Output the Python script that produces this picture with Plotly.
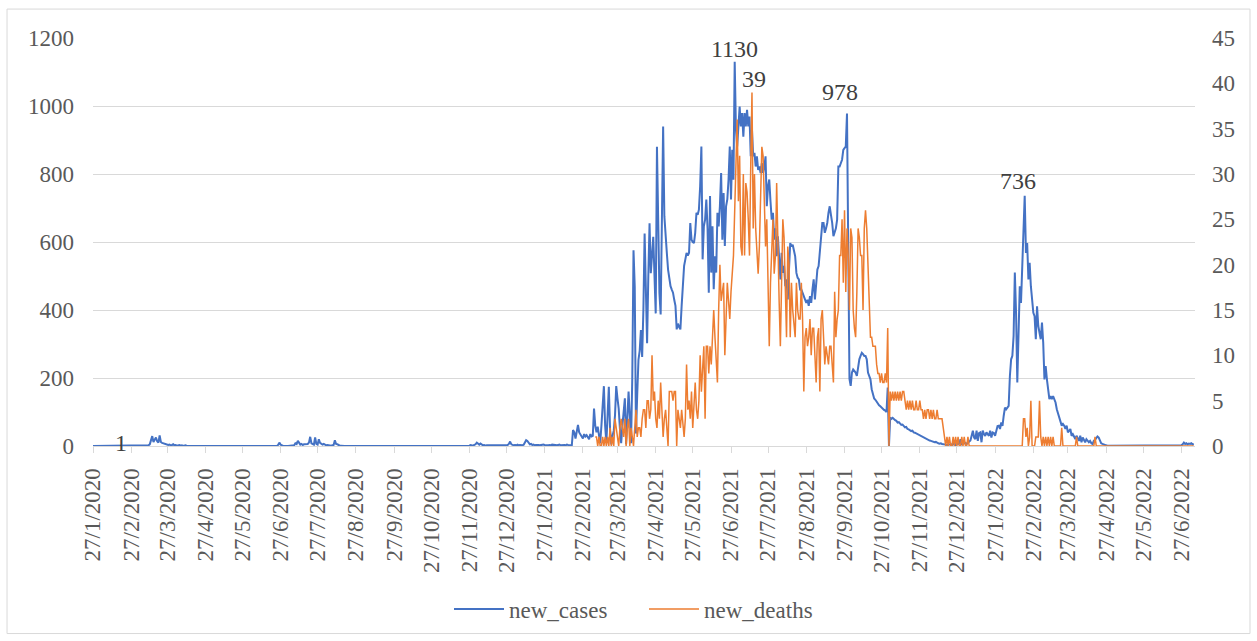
import pandas as pd
import plotly.graph_objects as go

# Daily series, one value per day starting at the given date
cases_start = "2020-01-27"
deaths_start = "2021-03-09"

new_cases = [
    0, 0, 0, 0, 0, 0, 0, 0, 0, 0,
    0, 0, 0, 0, 0, 0, 0, 0, 0, 0,
    0, 0, 0, 1, 0, 0, 0, 0, 0, 0,
    0, 0, 0, 0, 0, 0, 0, 0, 0, 0,
    0, 0, 0, 0, 0, 2, 5, 16, 29, 12,
    18, 25, 14, 10, 31, 12, 9, 8, 6, 4,
    5, 3, 4, 2, 3, 5, 2, 3, 1, 2,
    3, 1, 2, 0, 1, 2, 0, 1, 0, 0,
    0, 1, 0, 0, 0, 0, 0, 0, 1, 0,
    0, 0, 0, 0, 0, 0, 0, 0, 0, 0,
    0, 0, 0, 0, 0, 0, 0, 0, 0, 0,
    0, 0, 0, 0, 0, 0, 1, 0, 0, 0,
    0, 0, 0, 0, 0, 1, 0, 0, 0, 0,
    0, 0, 0, 1, 0, 0, 0, 1, 0, 0,
    0, 1, 0, 0, 0, 1, 0, 0, 1, 0,
    3, 10, 4, 1, 0, 0, 1, 0, 0, 0,
    0, 1, 0, 2, 8, 6, 15, 10, 4, 6,
    3, 5, 5, 4, 6, 10, 27, 8, 6, 4,
    25, 6, 4, 20, 9, 5, 4, 6, 3, 2,
    3, 2, 2, 1, 2, 3, 17, 6, 5, 2,
    1, 1, 0, 1, 0, 0, 0, 0, 1, 0,
    0, 0, 0, 0, 0, 0, 0, 0, 0, 0,
    0, 0, 0, 0, 0, 0, 0, 0, 0, 0,
    0, 0, 0, 0, 1, 0, 0, 0, 0, 0,
    1, 0, 0, 1, 0, 0, 0, 1, 0, 1,
    0, 0, 1, 0, 2, 0, 1, 0, 0, 1,
    0, 2, 0, 1, 0, 1, 0, 0, 2, 0,
    1, 0, 1, 0, 2, 1, 0, 1, 0, 2,
    1, 0, 2, 1, 0, 1, 2, 0, 1, 0,
    2, 1, 0, 1, 2, 0, 1, 1, 0, 2,
    1, 2, 0, 1, 2, 1, 3, 2, 1, 3,
    5, 10, 6, 4, 7, 3, 2, 3, 1, 2,
    2, 3, 1, 2, 3, 2, 1, 2, 3, 1,
    2, 1, 3, 2, 1, 2, 3, 6, 13, 5,
    3, 2, 3, 2, 4, 2, 3, 2, 2, 4,
    10, 17, 15, 8, 5, 6, 3, 4, 2, 3,
    4, 3, 2, 3, 2, 4, 3, 2, 3, 2,
    3, 2, 4, 3, 2, 3, 2, 3, 4, 2,
    3, 2, 3, 2, 4, 3, 2, 3, 2, 47,
    40, 22, 45, 62, 40, 35, 30, 22, 35, 28,
    32, 25, 20, 35, 28, 30, 110, 60, 40, 57,
    30, 8, 60, 120, 176, 60, 10, 90, 174, 50,
    5, 30, 45, 90, 176, 140, 110, 50, 8, 60,
    100, 140, 5, 80, 160, 90, 8, 200, 576, 468,
    37, 150, 253, 280, 341, 262, 400, 625, 430, 302,
    500, 655, 508, 560, 615, 500, 390, 880, 700, 450,
    387, 620, 940, 676, 600, 568, 519, 490, 470, 460,
    451, 430, 412, 343, 360, 350, 343, 412, 480, 530,
    549, 568, 560, 568, 656, 607, 600, 597, 627, 686,
    680, 695, 764, 881, 549, 646, 666, 725, 640, 451,
    735, 510, 646, 461, 558, 510, 686, 646, 705, 803,
    607, 744, 588, 705, 725, 783, 881, 725, 871, 783,
    1130, 930, 881, 959, 998, 940, 979, 910, 979, 940,
    989, 940, 969, 852, 930, 852, 862, 822, 852, 812,
    822, 803, 832, 803, 820, 852, 705, 764, 784, 720,
    666, 686, 607, 640, 558, 617, 560, 490, 568, 509,
    530, 470, 490, 431, 520, 597, 587, 592, 575, 558,
    509, 495, 490, 460, 460, 450, 441, 431, 421, 430,
    412, 441, 421, 460, 490, 431, 480, 519, 529, 578,
    620, 656, 656, 627, 640, 656, 686, 705, 680, 656,
    617, 627, 640, 666, 822, 822, 830, 842, 871, 875,
    881, 978, 587, 197, 177, 216, 225, 220, 216, 206,
    235, 255, 265, 274, 270, 265, 265, 255, 216, 205,
    196, 167, 148, 140, 136, 130, 125, 120, 117, 113,
    108, 106, 104, 100, 172, 0, 84, 80, 83, 78,
    76, 74, 69, 70, 66, 62, 63, 60, 55, 56,
    50, 49, 47, 44, 45, 40, 39, 37, 36, 33,
    30, 30, 27, 24, 23, 20, 19, 18, 16, 15,
    13, 12, 11, 12, 9, 8, 7, 8, 6, 6,
    5, 4, 3, 4, 3, 5, 2, 11, 4, 0,
    16, 6, 8, 20, 3, 11, 8, 9, 6, 10,
    12, 16, 30, 45, 25, 20, 45, 15, 38, 40,
    11, 45, 35, 30, 40, 35, 30, 45, 25, 40,
    38, 30, 50, 59, 60, 50, 69, 59, 89, 113,
    108, 113, 118, 206, 255, 265, 324, 510, 392, 187,
    324, 470, 421, 519, 597, 736, 568, 597, 490, 539,
    470, 421, 392, 382, 314, 411, 353, 333, 314, 363,
    304, 196, 235, 196, 160, 138, 147, 138, 147, 135,
    128, 108, 95, 89, 69, 60, 65, 60, 50, 60,
    40, 45, 50, 30, 35, 28, 20, 30, 22, 15,
    30, 11, 25, 15, 11, 20, 14, 11, 15, 8,
    6, 15, 18, 25, 28, 25, 15, 8, 6, 4,
    3, 2, 1, 1, 2, 1, 0, 1, 2, 1,
    0, 1, 1, 0, 2, 1, 0, 1, 0, 1,
    1, 0, 1, 2, 0, 1, 0, 1, 1, 0,
    2, 1, 0, 1, 0, 1, 1, 0, 2, 1,
    0, 1, 0, 1, 1, 0, 1, 0, 2, 0,
    1, 0, 1, 1, 0, 2, 1, 0, 1, 1,
    2, 1, 2, 5, 10, 6, 8, 5, 7, 6,
    8, 5, 6,
]

new_deaths = [
    1, 1, 0,
    1, 0, 0, 1, 0, 1, 0, 1, 0, 2,
    0, 1, 0, 3, 2, 1, 0, 2, 3, 2,
    1, 3, 0, 2, 3, 0, 2, 1, 0, 2,
    4, 1, 2, 2, 1, 3, 4, 4, 2, 5,
    5, 3, 4, 10, 5, 6, 3, 2, 5, 3,
    7, 4, 1, 3, 4, 2, 0, 6, 6, 6,
    5, 6, 6, 0, 4, 3, 2, 4, 2, 1,
    3, 9, 4, 5, 3, 6, 2, 4, 7, 4,
    3, 5, 10, 6, 8, 11, 3, 11, 11, 8,
    11, 9, 12, 15, 12, 10, 7, 15, 20, 16,
    17, 18, 10, 15, 18, 16, 14, 17, 19, 21,
    26, 30, 36, 27, 32, 22, 21, 30, 21, 29,
    28, 25, 21, 31, 39, 24, 30, 24, 21, 19,
    22, 27, 33, 32, 27, 22, 25, 15, 11, 18,
    23, 25, 19, 21, 29, 21, 16, 11, 19, 25,
    23, 16, 12, 22, 20, 12, 18, 15, 13, 12,
    18, 15, 14, 14, 18, 14, 6, 12, 13, 11,
    12, 14, 10, 13, 13, 9, 7, 12, 13, 6,
    14, 15, 12, 9, 11, 10, 9, 11, 11, 9,
    7, 17, 12, 14, 15, 21, 21, 25, 18, 26,
    17, 24, 21, 15, 24, 23, 15, 13, 12, 17,
    24, 23, 21, 21, 15, 24, 26, 24, 20, 16,
    12, 12, 11, 11, 11, 9, 8, 8, 7, 8,
    7, 7, 8, 7, 13, 0, 6, 5, 6, 5,
    6, 5, 6, 5, 6, 5, 6, 6, 5, 4,
    5, 4, 5, 4, 5, 4, 4, 5, 4, 4,
    5, 4, 4, 3, 4, 3, 4, 4, 3, 4,
    3, 4, 3, 3, 4, 3, 3, 3, 3, 2,
    1, 0, 1, 0, 1, 0, 0, 1, 0, 1,
    0, 1, 0, 0, 1, 0, 1, 0, 0, 1,
    0, 0, 0, 0, 0, 0, 0, 0, 0, 0,
    0, 0, 0, 0, 0, 0, 0, 0, 0, 0,
    0, 0, 0, 0, 0, 0, 0, 0, 0, 0,
    0, 0, 0, 0, 0, 0, 0, 0, 0, 0,
    0, 0, 0, 0, 3, 3, 1, 2, 0, 1,
    5, 0, 0, 0, 1, 1, 1, 5, 1, 0,
    1, 0, 1, 0, 1, 0, 1, 0, 1, 0,
    0, 0, 0, 0, 0, 2, 0, 0, 0, 0,
    0, 0, 0, 0, 0, 0, 0, 1, 0, 0,
    0, 0, 0, 0, 0, 0, 0, 0, 0, 0,
    0, 0, 1, 0, 0, 0, 0, 0, 0, 0,
    0, 0, 0, 0, 0, 0, 0, 0, 0, 0,
    0, 0, 0, 0, 0, 0, 0, 0, 0, 0,
    0, 0, 0, 0, 0, 0, 0, 0, 0, 0,
    0, 0, 0, 0, 0, 0, 0, 0, 0, 0,
    0, 0, 0, 0, 0, 0, 0, 0, 0, 0,
    0, 0, 0, 0, 0, 0, 0, 0, 0, 0,
    0, 0, 0, 0, 0, 0, 0, 0, 0, 0,
    0, 0, 0,
]

# Dates that carry a value label
case_label_dates = ["2020-02-19", "2021-06-30", "2021-09-29", "2022-02-20"]
death_label_dates = ["2021-07-14"]

cases = pd.Series(new_cases, index=pd.date_range(cases_start, periods=len(new_cases), freq="D"))
deaths = pd.Series(new_deaths, index=pd.date_range(deaths_start, periods=len(new_deaths), freq="D"))

axis_start = pd.Timestamp(cases_start)
axis_end = cases.index[-1] + pd.Timedelta(days=1)
tick_dates = pd.date_range(cases_start, "2022-06-27", freq=pd.DateOffset(months=1))
tick_text = [f"{t.day}/{t.month}/{t.year}" for t in tick_dates]

SERIF = "Liberation Serif"
GREY = "#595959"
GRID = "#d9d9d9"

fig = go.Figure()
fig.add_trace(go.Scatter(
    x=cases.index, y=cases.values, name="new_cases", mode="lines",
    line=dict(color="#4472C4", width=2), yaxis="y",
))
fig.add_trace(go.Scatter(
    x=deaths.index, y=deaths.values, name="new_deaths", mode="lines",
    line=dict(color="#ED7D31", width=1.5), yaxis="y2",
))

annotations = []
# per-label pixel nudges (xshift, yshift)
case_shifts = {"2020-02-19": (0, -12), "2021-06-30": (0, -2), "2021-09-29": (-7, 6), "2022-02-20": (-7, 0)}
for d in case_label_dates:
    ts = pd.Timestamp(d)
    v = int(cases[ts])
    xs, ys = case_shifts[d]
    annotations.append(dict(
        x=ts, y=v, xref="x", yref="y", text=str(v), showarrow=False,
        yanchor="bottom", xshift=xs, yshift=ys,
        font=dict(family=SERIF, size=24, color="#404040"),
    ))
for d in death_label_dates:
    ts = pd.Timestamp(d)
    v = int(deaths[ts])
    annotations.append(dict(
        x=ts, y=v, xref="x", yref="y2", text=str(v), showarrow=False,
        yanchor="bottom", xshift=2, yshift=-2,
        font=dict(family=SERIF, size=24, color="#404040"),
    ))

fig.update_layout(
    width=1257, height=641,
    margin=dict(l=93, r=62, t=38, b=194),
    paper_bgcolor="white", plot_bgcolor="white",
    font=dict(family=SERIF, size=23, color=GREY),
    showlegend=True,
    legend=dict(
        orientation="h", x=0.5, xanchor="center", y=-0.396, yanchor="middle",
        font=dict(family=SERIF, size=23, color=GREY),
        itemwidth=50, tracegroupgap=0,
        entrywidth=130, entrywidthmode="pixels",
    ),
    xaxis=dict(
        type="date", range=[axis_start, axis_end],
        tickvals=tick_dates, ticktext=tick_text, tickangle=-90,
        ticks="outside", ticklen=6, tickcolor=GRID,
        showline=True, linecolor=GRID, linewidth=1,
        showgrid=False, zeroline=False, ticklabelstandoff=6,
        tickfont=dict(family=SERIF, size=23, color=GREY),
    ),
    yaxis=dict(
        range=[0, 1200], dtick=200, tick0=0,
        showgrid=True, gridcolor=GRID, gridwidth=1,
        zeroline=False, showline=False, ticks="",
        ticklabelstandoff=18,
        tickfont=dict(family=SERIF, size=23, color=GREY),
    ),
    yaxis2=dict(
        range=[0, 45], dtick=5, tick0=0, overlaying="y", side="right",
        showgrid=False, zeroline=False, showline=False, ticks="",
        ticklabelstandoff=16,
        tickfont=dict(family=SERIF, size=23, color=GREY),
    ),
    annotations=annotations,
    shapes=[dict(
        type="rect", xref="paper", yref="paper",
        x0=-0.0780, x1=1.0499, y0=-0.4597, y1=1.0709,
        line=dict(color=GRID, width=1), fillcolor="rgba(0,0,0,0)", layer="below",
    )],
)

fig.write_html("out.html")
